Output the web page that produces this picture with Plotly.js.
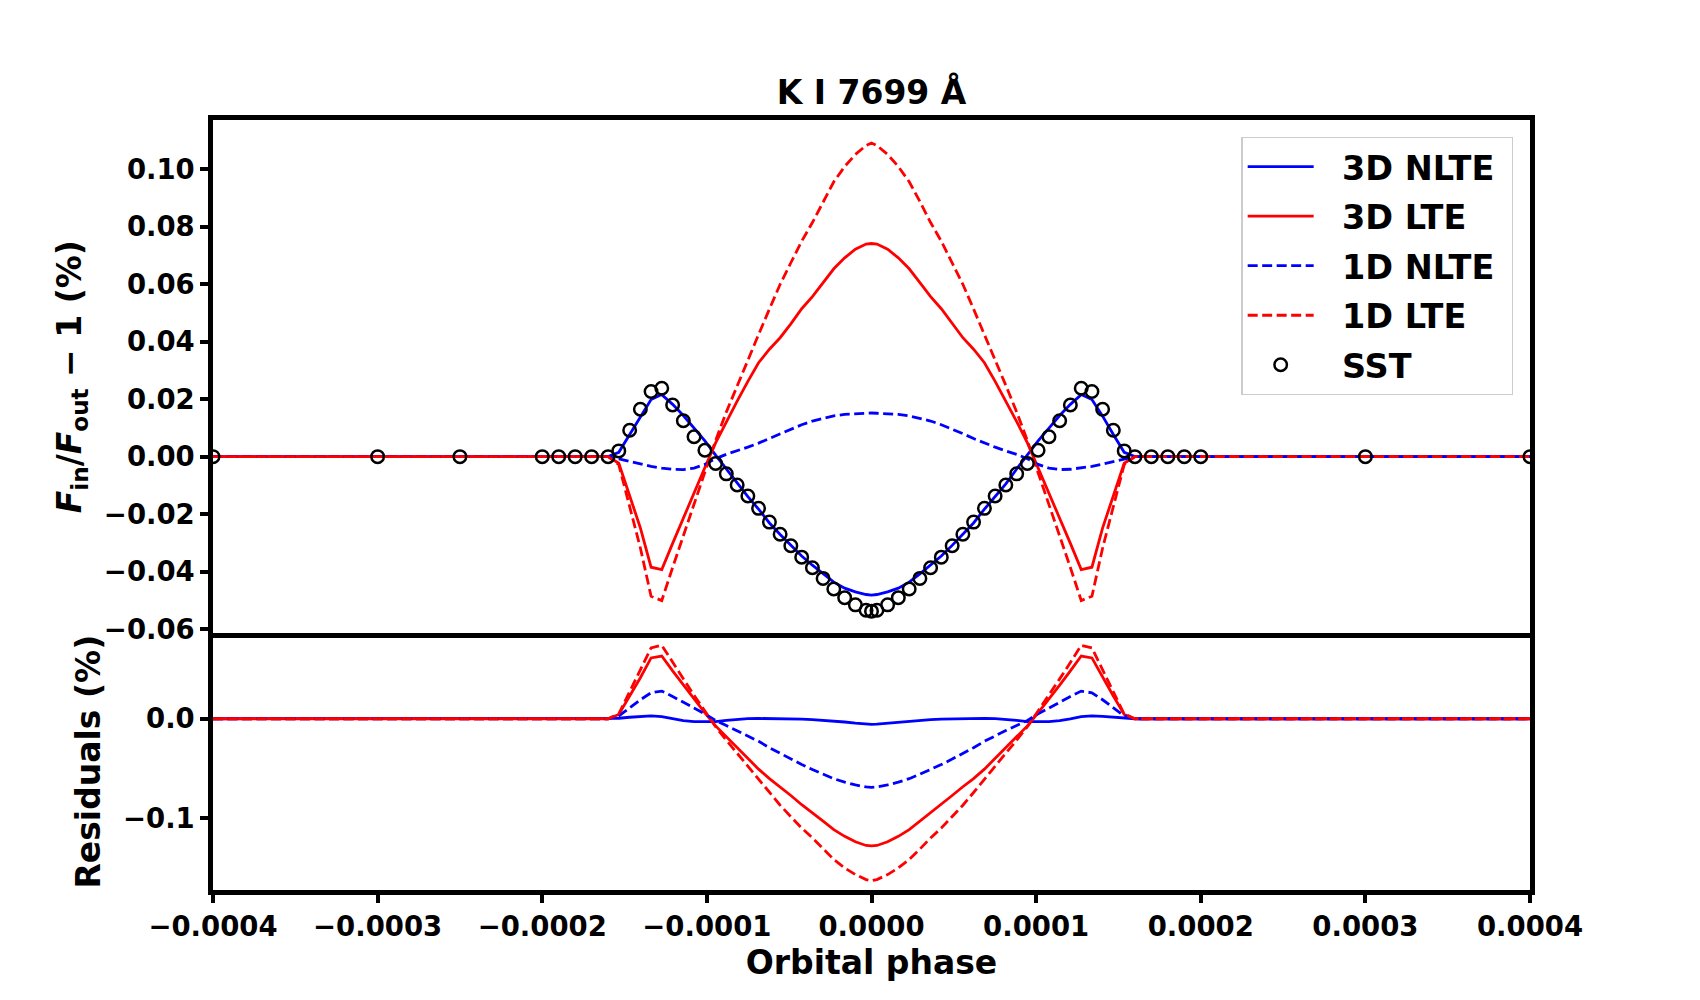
<!DOCTYPE html>
<html>
<head>
<meta charset="utf-8">
<script src="https://cdn.plot.ly/plotly-3.0.1.min.js"></script>
<style>
  body { margin: 0; background: white; }
  #graphDiv { width: 1700px; height: 1000px; }
</style>
</head>
<body>
<div id="graphDiv"></div>
<script>
// orbital phase of every sample (same grid for SST and models)
var phase = [
  -0.0004, -0.0003, -0.00025, -0.0002, -0.00019, -0.00018, -0.00017, -0.00016,
  -0.0001535, -0.0001469, -0.0001404, -0.0001339, -0.0001274, -0.0001208, -0.0001143, -0.0001078,
  -0.0001012, -0.0000947, -0.0000882, -0.0000816, -0.0000751, -0.0000686, -0.0000620, -0.0000555,
  -0.0000490, -0.0000424, -0.0000359, -0.0000294, -0.0000229, -0.0000163, -0.0000098, -0.0000033,
  0,
  0.0000033, 0.0000098, 0.0000163, 0.0000229, 0.0000294, 0.0000359, 0.0000424, 0.0000490,
  0.0000555, 0.0000620, 0.0000686, 0.0000751, 0.0000816, 0.0000882, 0.0000947, 0.0001012,
  0.0001078, 0.0001143, 0.0001208, 0.0001274, 0.0001339, 0.0001404, 0.0001469, 0.0001535,
  0.00016, 0.00017, 0.00018, 0.00019, 0.0002, 0.0003, 0.0004
];

// SST observations (%)
var sst = [
  0, 0, 0, 0, 0, 0, 0, 0,
  0.0020, 0.0092, 0.0165, 0.0227, 0.0238, 0.0180, 0.0125, 0.0069,
  0.0022, -0.0024, -0.0060, -0.0099, -0.0137, -0.0180, -0.0228, -0.0270,
  -0.0310, -0.0350, -0.0387, -0.0424, -0.0461, -0.0491, -0.0516, -0.0535,
  -0.0538,
  -0.0535, -0.0516, -0.0491, -0.0461, -0.0424, -0.0387, -0.0350, -0.0310,
  -0.0270, -0.0228, -0.0180, -0.0137, -0.0099, -0.0060, -0.0024, 0.0022,
  0.0069, 0.0125, 0.0180, 0.0238, 0.0227, 0.0165, 0.0092, 0.0020,
  0, 0, 0, 0, 0, 0, 0
];

// models (%)
var nlte3d = [
  0, 0, 0, 0, 0, 0, 0, 0,
  0.0015, 0.0077, 0.0141, 0.0199, 0.0216, 0.0182, 0.0143, 0.0099,
  0.0055, 0.0005, -0.0043, -0.0095, -0.0139, -0.0183, -0.0231, -0.0271,
  -0.0309, -0.0346, -0.0378, -0.0408, -0.0437, -0.0458, -0.0471, -0.0480,
  -0.0482,
  -0.0480, -0.0471, -0.0458, -0.0437, -0.0408, -0.0378, -0.0346, -0.0309,
  -0.0271, -0.0231, -0.0183, -0.0139, -0.0095, -0.0043, 0.0005, 0.0055,
  0.0099, 0.0143, 0.0182, 0.0216, 0.0199, 0.0141, 0.0077, 0.0015,
  0, 0, 0, 0, 0, 0, 0
];
var lte3d = [
  0, 0, 0, 0, 0, 0, 0, 0,
  -0.0023, -0.0137, -0.0248, -0.0385, -0.0393, -0.0302, -0.0213, -0.0126,
  -0.0038, 0.0048, 0.0122, 0.0193, 0.0262, 0.0327, 0.0374, 0.0414,
  0.0462, 0.0515, 0.0557, 0.0606, 0.0654, 0.0692, 0.0722, 0.0740,
  0.0742,
  0.0740, 0.0722, 0.0692, 0.0654, 0.0606, 0.0557, 0.0515, 0.0462,
  0.0414, 0.0374, 0.0327, 0.0262, 0.0193, 0.0122, 0.0048, -0.0038,
  -0.0126, -0.0213, -0.0302, -0.0393, -0.0385, -0.0248, -0.0137, -0.0023,
  0, 0, 0, 0, 0, 0, 0
];
var nlte1d = [
  0, 0, 0, 0, 0, 0, 0, 0,
  -0.0008, -0.0017, -0.0026, -0.0034, -0.0040, -0.0044, -0.0045, -0.0040,
  -0.0027, -0.0007, 0.0008, 0.0020, 0.0033, 0.0047, 0.0063, 0.0080,
  0.0096, 0.0111, 0.0124, 0.0134, 0.0142, 0.0147, 0.0150, 0.0151,
  0.0152,
  0.0151, 0.0150, 0.0147, 0.0142, 0.0134, 0.0124, 0.0111, 0.0096,
  0.0080, 0.0063, 0.0047, 0.0033, 0.0020, 0.0008, -0.0007, -0.0027,
  -0.0040, -0.0045, -0.0044, -0.0040, -0.0034, -0.0026, -0.0017, -0.0008,
  0, 0, 0, 0, 0, 0, 0
];
var lte1d = [
  0, 0, 0, 0, 0, 0, 0, 0,
  -0.0028, -0.0178, -0.0318, -0.0486, -0.0501, -0.0386, -0.0276, -0.0166,
  -0.0056, 0.0056, 0.0155, 0.0248, 0.0340, 0.0425, 0.0514, 0.0600,
  0.0675, 0.0750, 0.0815, 0.0888, 0.0957, 0.1010, 0.1052, 0.1083,
  0.1092,
  0.1083, 0.1052, 0.1010, 0.0957, 0.0888, 0.0815, 0.0750, 0.0675,
  0.0600, 0.0514, 0.0425, 0.0340, 0.0248, 0.0155, 0.0056, -0.0056,
  -0.0166, -0.0276, -0.0386, -0.0501, -0.0486, -0.0318, -0.0178, -0.0028,
  0, 0, 0, 0, 0, 0, 0
];

// residuals SST - model (%)
var resNlte3d = [
  0, 0, 0, 0, 0, 0, 0, 0,
  0.0005, 0.0015, 0.0024, 0.0028, 0.0022, -0.0002, -0.0018, -0.0030,
  -0.0033, -0.0029, -0.0017, -0.0004, 0.0002, 0.0003, 0.0003, 0.0001,
  -0.0001, -0.0004, -0.0009, -0.0016, -0.0024, -0.0033, -0.0045, -0.0055,
  -0.0056,
  -0.0055, -0.0045, -0.0033, -0.0024, -0.0016, -0.0009, -0.0004, -0.0001,
  0.0001, 0.0003, 0.0003, 0.0002, -0.0004, -0.0017, -0.0029, -0.0033,
  -0.0030, -0.0018, -0.0002, 0.0022, 0.0028, 0.0024, 0.0015, 0.0005,
  0, 0, 0, 0, 0, 0, 0
];
var resLte3d = [
  0, 0, 0, 0, 0, 0, 0, 0,
  0.0043, 0.0229, 0.0413, 0.0612, 0.0631, 0.0482, 0.0338, 0.0195,
  0.0060, -0.0072, -0.0182, -0.0292, -0.0399, -0.0507, -0.0602, -0.0684,
  -0.0772, -0.0865, -0.0944, -0.1030, -0.1115, -0.1183, -0.1238, -0.1275,
  -0.1280,
  -0.1275, -0.1238, -0.1183, -0.1115, -0.1030, -0.0944, -0.0865, -0.0772,
  -0.0684, -0.0602, -0.0507, -0.0399, -0.0292, -0.0182, -0.0072, 0.0060,
  0.0195, 0.0338, 0.0482, 0.0631, 0.0612, 0.0413, 0.0229, 0.0043,
  0, 0, 0, 0, 0, 0, 0
];
var resNlte1d = [
  0, 0, 0, 0, 0, 0, 0, 0,
  0.0028, 0.0109, 0.0191, 0.0261, 0.0278, 0.0224, 0.0170, 0.0109,
  0.0049, -0.0017, -0.0068, -0.0119, -0.0170, -0.0227, -0.0291, -0.0350,
  -0.0406, -0.0461, -0.0511, -0.0558, -0.0603, -0.0638, -0.0666, -0.0686,
  -0.0690,
  -0.0686, -0.0666, -0.0638, -0.0603, -0.0558, -0.0511, -0.0461, -0.0406,
  -0.0350, -0.0291, -0.0227, -0.0170, -0.0119, -0.0068, -0.0017, 0.0049,
  0.0109, 0.0170, 0.0224, 0.0278, 0.0261, 0.0191, 0.0109, 0.0028,
  0, 0, 0, 0, 0, 0, 0
];
var resLte1d = [
  0, 0, 0, 0, 0, 0, 0, 0,
  0.0048, 0.0270, 0.0483, 0.0713, 0.0739, 0.0566, 0.0401, 0.0235,
  0.0078, -0.0080, -0.0215, -0.0347, -0.0477, -0.0605, -0.0742, -0.0870,
  -0.0985, -0.1100, -0.1199, -0.1311, -0.1416, -0.1501, -0.1568, -0.1618,
  -0.1630,
  -0.1618, -0.1568, -0.1501, -0.1416, -0.1311, -0.1199, -0.1100, -0.0985,
  -0.0870, -0.0742, -0.0605, -0.0477, -0.0347, -0.0215, -0.0080, 0.0078,
  0.0235, 0.0401, 0.0566, 0.0739, 0.0713, 0.0483, 0.0270, 0.0048,
  0, 0, 0, 0, 0, 0, 0
];

var BLUE = '#0000ff';
var RED = '#ff0000';
var DASH = '10px,4.5px';
var LW = 2.8;
// a bit of room between legend sample and label, like the matplotlib legend
var PAD = '\u00a0\u00a0';

function line(y, name, color, dash, axis, legend) {
  return {
    x: phase, y: y, name: PAD + name + '\u00a0',
    mode: 'lines', type: 'scatter',
    line: {color: color, width: LW, dash: dash},
    xaxis: axis == 2 ? 'x2' : 'x',
    yaxis: axis == 2 ? 'y2' : 'y',
    legendgroup: name,
    showlegend: legend
  };
}

var data = [
  line(nlte3d, '3D NLTE', BLUE, 'solid', 1, true),
  line(lte3d, '3D LTE', RED, 'solid', 1, true),
  line(nlte1d, '1D NLTE', BLUE, DASH, 1, true),
  line(lte1d, '1D LTE', RED, DASH, 1, true),
  {
    x: phase, y: sst, name: PAD + 'SST',
    mode: 'markers', type: 'scatter',
    marker: {symbol: 'circle-open', size: 12.5, color: 'black', line: {color: 'black', width: 2.5}},
    legendgroup: 'SST'
  },
  line(resNlte3d, '3D NLTE', BLUE, 'solid', 2, false),
  line(resLte3d, '3D LTE', RED, 'solid', 2, false),
  line(resNlte1d, '1D NLTE', BLUE, DASH, 2, false),
  line(resLte1d, '1D LTE', RED, DASH, 2, false)
];

var font = {family: 'DejaVu Sans', size: 27.5, color: 'black', weight: 'bold'};
var big = {family: 'DejaVu Sans', size: 33, color: 'black', weight: 'bold'};

var layout = {
  width: 1700,
  height: 1000,
  margin: {l: 213, r: 170, t: 120, b: 110},
  paper_bgcolor: 'white',
  plot_bgcolor: 'white',
  font: font,
  showlegend: true,
  title: {
    text: 'K I 7699 Å',
    font: big,
    x: 0.5, xref: 'paper', xanchor: 'center',
    y: 0.908, yref: 'container', yanchor: 'middle'
  },
  xaxis: {
    anchor: 'y', matches: 'x2',
    range: [-0.0004, 0.0004],
    showticklabels: false, ticks: '',
    showline: true, mirror: true, linecolor: 'black', linewidth: 4.5,
    showgrid: false, zeroline: false
  },
  yaxis: {
    domain: [0.3334, 1], anchor: 'x',
    range: [-0.0615, 0.1172],
    tickvals: [-0.06, -0.04, -0.02, 0, 0.02, 0.04, 0.06, 0.08, 0.10],
    tickformat: '.2f',
    ticks: 'outside', ticklen: 8, tickwidth: 3.5, tickcolor: 'black',
    showline: true, mirror: true, linecolor: 'black', linewidth: 4.5,
    showgrid: false, zeroline: false,
    title: {
      text: '<i>F</i><sub>in</sub>/<i>F</i><sub>out</sub> − 1 (%)',
      font: big, standoff: 14
    }
  },
  xaxis2: {
    anchor: 'y2',
    range: [-0.0004, 0.0004],
    tickvals: [-0.0004, -0.0003, -0.0002, -0.0001, 0, 0.0001, 0.0002, 0.0003, 0.0004],
    tickformat: '.4f',
    ticks: 'outside', ticklen: 8, tickwidth: 3.5, tickcolor: 'black',
    showline: true, mirror: false, linecolor: 'black', linewidth: 4.5,
    showgrid: false, zeroline: false,
    title: {text: 'Orbital phase', font: big, standoff: 12}
  },
  yaxis2: {
    domain: [0, 0.3333], anchor: 'x2',
    range: [-0.1723, 0.0859],
    tickvals: [-0.1, 0],
    tickformat: '.1f',
    ticks: 'outside', ticklen: 8, tickwidth: 3.5, tickcolor: 'black',
    showline: true, mirror: true, linecolor: 'black', linewidth: 4.5,
    showgrid: false, zeroline: false,
    title: {text: 'Residuals (%)', font: big, standoff: 14}
  },
  legend: {
    x: 0.9873, y: 0.978, xanchor: 'right', yanchor: 'top',
    xref: 'paper', yref: 'paper',
    font: {family: 'DejaVu Sans', size: 33.5, color: 'black', weight: 'bold'},
    bgcolor: 'rgba(255,255,255,0.8)',
    bordercolor: '#cccccc', borderwidth: 1.4,
    tracegroupgap: 3,
    itemwidth: 66
  }
};

Plotly.newPlot('graphDiv', data, layout, {displayModeBar: false});
</script>
</body>
</html>
